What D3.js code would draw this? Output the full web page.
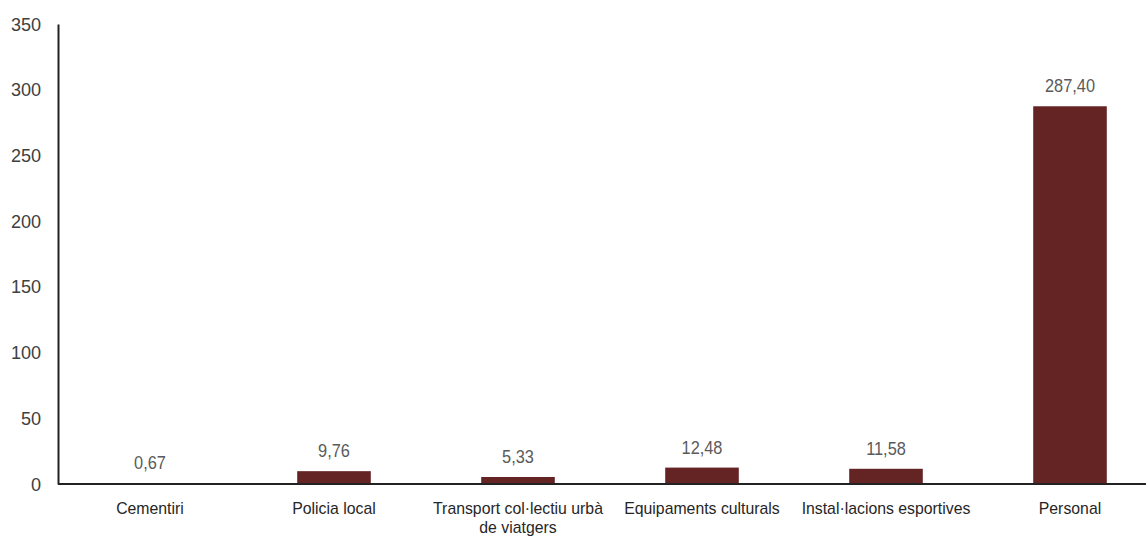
<!DOCTYPE html>
<html>
<head>
<meta charset="utf-8">
<script src="https://cdn.jsdelivr.net/npm/d3@7"></script>
<style>
  html, body { margin: 0; padding: 0; background: #fff; }
  svg { display: block; font-family: "Liberation Sans", Arial, sans-serif; }
</style>
</head>
<body>
<svg id="chart" width="1146" height="538"></svg>
<script>
// Categories (each entry may wrap onto several lines)
const categories = [
  ["Cementiri"],
  ["Policia local"],
  ["Transport col·lectiu urbà", "de viatgers"],
  ["Equipaments culturals"],
  ["Instal·lacions esportives"],
  ["Personal"]
];
const values = [0.67, 9.76, 5.33, 12.48, 11.58, 287.40];
const yTicks = [0, 50, 100, 150, 200, 250, 300, 350];

const svg = d3.select("#chart");
const plotLeft = 58, plotRight = 1162, plotTop = 24, plotBottom = 484;

const x = d3.scaleBand()
  .domain(d3.range(categories.length))
  .range([plotLeft, plotRight])
  .paddingInner(0.6)
  .paddingOuter(0.3);

const y = d3.scaleLinear().domain([0, 350]).range([plotBottom, plotTop]);

const fmt = v => v.toFixed(2).replace(".", ",");

// squeeze text horizontally to get a narrow face
function condense(sel, factor) {
  sel.each(function () {
    const len = this.getComputedTextLength();
    d3.select(this)
      .attr("textLength", len * factor)
      .attr("lengthAdjust", "spacingAndGlyphs");
  });
}

// bars
svg.append("g").selectAll("rect")
  .data(values)
  .join("rect")
  .attr("x", (d, i) => x(i))
  .attr("y", d => y(d))
  .attr("width", x.bandwidth())
  .attr("height", d => y(0) - y(d))
  .attr("fill", "#652424");

// value labels
const valueLabels = svg.append("g").selectAll("text")
  .data(values)
  .join("text")
  .attr("x", (d, i) => x(i) + x.bandwidth() / 2)
  .attr("y", d => y(d) - 14)
  .attr("text-anchor", "middle")
  .attr("font-size", 19)
  .attr("fill", "#5a5a5a")
  .text(fmt);
condense(valueLabels, 0.86);

// y axis
const yAxis = svg.append("g")
  .attr("transform", `translate(${plotLeft},0)`)
  .call(d3.axisLeft(y).tickValues(yTicks).tickSize(0).tickPadding(17));
yAxis.select(".domain").attr("stroke", "#222").attr("stroke-width", 2);
const tickText = yAxis.selectAll("text")
  .attr("font-size", 19).attr("fill", "#404040")
  .attr("font-family", "\"Liberation Sans\", Arial, sans-serif");
condense(tickText, 0.95);

// x axis baseline
svg.append("line")
  .attr("x1", plotLeft).attr("x2", 1146)
  .attr("y1", y(0)).attr("y2", y(0))
  .attr("stroke", "#222").attr("stroke-width", 2);

// category labels
const catG = svg.append("g").selectAll("text")
  .data(categories)
  .join("text")
  .attr("x", (d, i) => x(i) + x.bandwidth() / 2)
  .attr("y", 514)
  .attr("text-anchor", "middle")
  .attr("font-size", 17)
  .attr("fill", "#262626");
const catLines = catG.selectAll("tspan")
  .data(d => d)
  .join("tspan")
  .attr("x", function () { return d3.select(this.parentNode).attr("x"); })
  .attr("dy", (d, i) => i === 0 ? 0 : 19)
  .text(d => d);
condense(catLines, 0.93);
</script>
</body>
</html>
